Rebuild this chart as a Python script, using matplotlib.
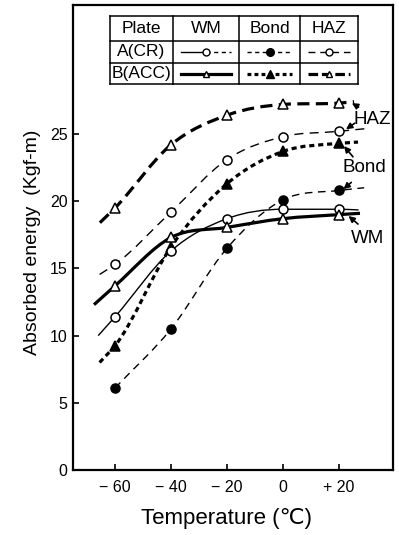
import numpy as np
import matplotlib
matplotlib.use('Agg')
from matplotlib import pyplot as plt
from matplotlib.path import Path
from matplotlib.patches import PathPatch
from matplotlib.lines import Line2D

plt.rcParams['font.family'] = ['Liberation Sans', 'DejaVu Sans']

#################
# the data      #
#################
temps = [-60, -40, -20, 0, 20]

wm_a   = [11.4, 16.3, 18.7, 19.4, 19.4]
wm_b   = [13.7, 17.3, 18.05, 18.7, 19.0]
bond_a = [6.1, 10.5, 16.5, 20.1, 20.8]
bond_b = [9.25, 16.6, 21.3, 23.7, 24.3]
haz_a  = [15.3, 19.2, 23.1, 24.8, 25.2]
haz_b  = [19.5, 24.2, 26.4, 27.2, 27.3]

# where each hand drawn curve starts and ends
wm_a_ends   = [(-66.0, 10.0), (27.0, 19.35)]
wm_b_ends   = [(-67.5, 12.3), (27.5, 19.1)]
bond_a_ends = [None, (29.0, 21.0)]
bond_b_ends = [(-65.5, 8.0), (26.8, 24.4)]
haz_a_ends  = [(-65.5, 14.55), (29.6, 25.4)]
haz_b_ends  = [(-65.4, 18.4), (25.4, 27.4)]

xticks = [-60, -40, -20, 0, 20]
xtick_labels = ['\u2212 60', '\u2212 40', '\u2212 20', '0', '+ 20']
yticks = [0, 5, 10, 15, 20, 25]


def smooth_path(xs, ys):
    # cubic through the points (three point slopes, clipped so it does not
    # overshoot), handed to matplotlib as bezier segments
    x = np.asarray(xs, float)
    y = np.asarray(ys, float)
    h = np.diff(x)
    d = np.diff(y) / h
    m = np.zeros_like(y)
    m[0] = d[0]
    m[-1] = d[-1]
    for i in range(1, len(y) - 1):
        if d[i - 1] * d[i] <= 0:
            m[i] = 0.0
        else:
            m[i] = (h[i] * d[i - 1] + h[i - 1] * d[i]) / (h[i - 1] + h[i])
            lim = 3 * min(abs(d[i - 1]), abs(d[i]))
            m[i] = np.sign(m[i]) * min(abs(m[i]), lim)
    verts = [(x[0], y[0])]
    codes = [Path.MOVETO]
    for i in range(len(x) - 1):
        verts += [(x[i] + h[i] / 3, y[i] + m[i] * h[i] / 3),
                  (x[i + 1] - h[i] / 3, y[i + 1] - m[i + 1] * h[i] / 3),
                  (x[i + 1], y[i + 1])]
        codes += [Path.CURVE4] * 3
    return Path(verts, codes)


def draw_series(ax, vals, ends, lw, dashes, marker, mfc, ms):
    xs = list(temps)
    ys = list(vals)
    if ends[0] is not None:
        xs = [ends[0][0]] + xs
        ys = [ends[0][1]] + ys
    if ends[1] is not None:
        xs = xs + [ends[1][0]]
        ys = ys + [ends[1][1]]
    patch = PathPatch(smooth_path(xs, ys), fill=False, lw=lw, ec='k',
                      capstyle='butt', zorder=2)
    if dashes is not None:
        patch.set_linestyle((0, dashes))
    ax.add_patch(patch)
    ax.plot(temps, vals, ls='none', marker=marker, mfc=mfc, mec='k',
            mew=1.1, ms=ms, zorder=4)


fig = plt.figure(figsize=(3.99, 5.35), dpi=100)
ax = fig.add_axes([0.183, 0.1215, 0.802, 0.8692])

thin = 1.0
thick = 2.3

draw_series(ax, bond_b, bond_b_ends, thick, (1.6, 1.2), '^', 'k', 6.5)
draw_series(ax, bond_a, bond_a_ends, thin, (5.5, 4.0), 'o', 'k', 6.5)
draw_series(ax, haz_a, haz_a_ends, thin, (6.5, 4.5), 'o', 'white', 6.5)
draw_series(ax, haz_b, haz_b_ends, thick, (3.8, 2.0), '^', 'white', 7)
draw_series(ax, wm_a, wm_a_ends, thin, None, 'o', 'white', 6.5)
draw_series(ax, wm_b, wm_b_ends, thick, None, '^', 'white', 7)

ax.set_xlim(-75, 39.3)
ax.set_ylim(0, 34.6)

ax.set_xticks(xticks)
ax.set_xticklabels(xtick_labels)
ax.set_yticks(yticks)
ax.tick_params(direction='in', length=4, width=1.2, labelsize=11.5)
ax.tick_params(axis='x', pad=7)
ax.tick_params(axis='y', pad=4)
for sp in ax.spines.values():
    sp.set_linewidth(1.6)

ax.set_ylabel('Absorbed energy  (Kgf-m)', fontsize=14)
ax.yaxis.set_label_coords(-0.10, 0.49)
ax.set_xlabel('Temperature (\u2103)', fontsize=16)
ax.xaxis.set_label_coords(0.48, -0.082)

# curve labels with arrows
arrow = dict(arrowstyle='-|>', lw=1.2, color='k', mutation_scale=9,
             shrinkA=0, shrinkB=0)
ax.text(31.9, 26.1, 'HAZ', fontsize=13.5, ha='center', va='center')
ax.text(29.0, 22.5, 'Bond', fontsize=13.5, ha='center', va='center')
ax.text(30.2, 17.2, 'WM', fontsize=13.5, ha='center', va='center')
ax.annotate('', xy=(24.6, haz_b[-1]), xytext=(27.0, 27.0), arrowprops=arrow)
ax.annotate('', xy=(22.5, haz_a[-1] + 0.15), xytext=(25.6, 25.8), arrowprops=arrow)
ax.annotate('', xy=(21.8, bond_b[-1] - 0.2), xytext=(25.0, 23.3), arrowprops=arrow)
ax.annotate('', xy=(21.6, bond_a[-1] + 0.1), xytext=(24.4, 21.4), arrowprops=arrow)
ax.annotate('', xy=(23.4, wm_b[-1] - 0.1), xytext=(26.8, 18.3), arrowprops=arrow)

#######################
# the legend table    #
#######################
t_left, t_right = 0.116, 0.891
row_y = [0.976, 0.923, 0.875, 0.830]
col_x = [t_left, 0.311, 0.520, 0.710, t_right]
tf = ax.transAxes
for y in row_y:
    ax.add_line(Line2D([t_left, t_right], [y, y], transform=tf, color='k', lw=1.1))
for x in col_x:
    ax.add_line(Line2D([x, x], [row_y[0], row_y[-1]], transform=tf, color='k', lw=1.1))

headers = ['Plate', 'WM', 'Bond', 'HAZ']
plates = ['A(CR)', 'B(ACC)']
for j, h in enumerate(headers):
    ax.text((col_x[j] + col_x[j + 1]) / 2, (row_y[0] + row_y[1]) / 2, h,
            transform=tf, ha='center', va='center', fontsize=12.5)
for i, p in enumerate(plates):
    ax.text((col_x[0] + col_x[1]) / 2, (row_y[i + 1] + row_y[i + 2]) / 2, p,
            transform=tf, ha='center', va='center', fontsize=12.5)

samples = [
    # row, col, lw, dashes, marker, facecolor, size
    (0, 2, thin, (3.0, 2.5), 'o', 'k', 5.5),
    (0, 3, thin, (5.0, 3.5), 'o', 'white', 5),
    (1, 1, thick, None, '^', 'white', 5),
    (1, 2, thick, (1.2, 1.0), '^', 'k', 5.5),
    (1, 3, thick, (3.0, 1.2), '^', 'white', 5),
]
for r, c, lw, ds, mk, fc, ms in samples:
    yc = (row_y[r + 1] + row_y[r + 2]) / 2
    x0 = col_x[c] + 0.025
    x1 = col_x[c + 1] - 0.025
    ln = Line2D([x0, x1], [yc, yc], transform=tf, color='k', lw=lw)
    if ds is not None:
        ln.set_dashes(ds)
    ax.add_line(ln)
    ax.add_line(Line2D([(x0 + x1) / 2], [yc], transform=tf, marker=mk,
                       mfc=fc, mec='k', mew=1.0, ms=ms, ls='none', zorder=5))

# WM A sample: solid on the left, dashed on the right
yc = (row_y[1] + row_y[2]) / 2
x0, x1 = col_x[1] + 0.025, col_x[2] - 0.025
xm = (x0 + x1) / 2
ax.add_line(Line2D([x0, xm], [yc, yc], transform=tf, color='k', lw=thin))
ln = Line2D([xm, x1], [yc, yc], transform=tf, color='k', lw=thin)
ln.set_dashes((3.0, 2.5))
ax.add_line(ln)
ax.add_line(Line2D([xm], [yc], transform=tf, marker='o', mfc='white',
                   mec='k', mew=1.0, ms=5, ls='none', zorder=5))

plt.savefig('out.png', dpi=100)
